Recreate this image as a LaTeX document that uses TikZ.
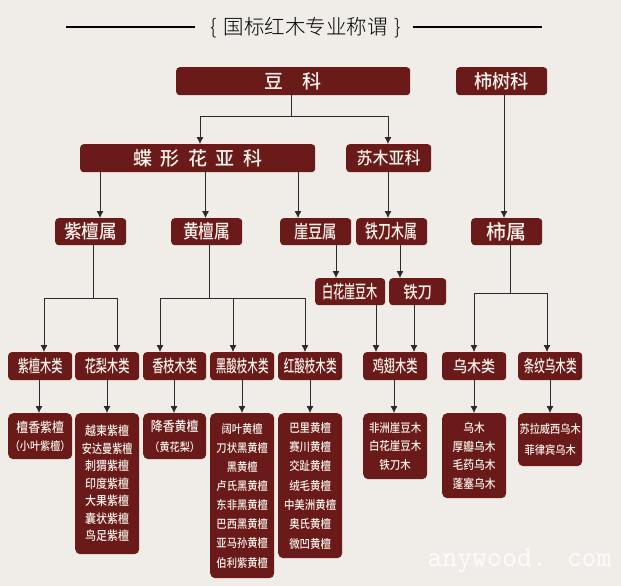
\documentclass[tikz,border=0pt]{standalone}
\usepackage{fontspec}
\setmainfont{Noto Sans CJK SC Medium}
\newfontfamily\listfont[FakeStretch=0.88]{Noto Sans CJK SC Medium}
\newfontfamily\titlefont{Noto Sans CJK SC Light}
\usetikzlibrary{arrows.meta}
\definecolor{paper}{HTML}{F0EDE8}
\definecolor{wood}{HTML}{6A1A18}
\definecolor{ink}{HTML}{2A2A2A}
\definecolor{chalk}{HTML}{F8F2EC}
\newcommand{\sq}[2][0.82]{\scalebox{#1}[1]{#2}}
\tikzset{
  x=1pt,y=-1pt,
  box/.style={fill=wood,rounded corners=3.5pt,text=chalk,inner sep=0pt,align=center,anchor=north west,font=\fontsize{#1}{#1}\selectfont},
  box/.default=18,
  list/.style={fill=wood,rounded corners=5pt,text=chalk,inner sep=0pt,align=center,anchor=north west,font=\listfont\fontsize{12.5}{#1}\selectfont},
  line/.style={draw=ink,line width=0.75pt},
  arr/.style={draw=ink,line width=0.75pt,-{Latex[length=7pt,width=7pt]}},
}
\begin{document}
\begin{tikzpicture}
\useasboundingbox (0,0) rectangle (621,586);
\fill[paper] (0,0) rectangle (621,586);
% title
\coordinate (tl0) at (66,27); \coordinate (tl1) at (195,27);
\coordinate (tr0) at (413,27); \coordinate (tr1) at (542,27);
\draw[line width=1.6pt,black] (tl0)--(tl1);
\draw[line width=1.6pt,black] (tr0)--(tr1);
\node[text=black,font=\titlefont\fontsize{20.5}{21}\selectfont,anchor=center] (title) at (306,28) {\{\hspace{7pt}国标红木专业称谓\hspace{7pt}\}};
% level 1
\node[box=19,minimum width=234pt,minimum height=28pt] (dou) at (176,67) {豆\hspace{19pt}科};
\node[box=19,minimum width=91pt,minimum height=28pt] (shishu) at (456,67) {\sq[0.96]{柿树科}};
% level 2
\node[box=19,minimum width=235pt,minimum height=28pt] (die) at (80,144) {蝶\hspace{8.5pt}形\hspace{8.5pt}花\hspace{8.5pt}亚\hspace{8.5pt}科};
\node[box=17,minimum width=85pt,minimum height=28pt] (sumu) at (346,144) {\sq[0.94]{苏木亚科}};
% level 3
\node[box=19,minimum width=71pt,minimum height=27pt] (zitan) at (55,218) {\sq[0.93]{紫檀属}};
\node[box=19,minimum width=71pt,minimum height=27pt] (huangtan) at (171,218) {\sq[0.83]{黄檀属}};
\node[box=18,minimum width=71pt,minimum height=27pt] (yadou) at (280,218) {\sq[0.8]{崖豆属}};
\node[box=19,minimum width=71pt,minimum height=27pt] (tiedaomu) at (356,218) {\sq[0.68]{铁刀木属}};
\node[box=20,minimum width=71pt,minimum height=27pt] (shi) at (471,218) {柿属};
% level 4
\node[box=18,minimum width=70pt,minimum height=27pt] (baihua) at (315,278) {\sq[0.62]{白花崖豆木}};
\node[box=17,minimum width=57pt,minimum height=27pt] (tiedao) at (389,278) {\sq[0.85]{铁刀}};
% level 5
\node[box=17,minimum width=64pt,minimum height=28pt] (l1) at (8,352) {\sq[0.66]{紫檀木类}};
\node[box=17,minimum width=64pt,minimum height=28pt] (l2) at (75,352) {\sq[0.66]{花梨木类}};
\node[box=17,minimum width=63pt,minimum height=28pt] (l3) at (143,352) {\sq[0.66]{香枝木类}};
\node[box=17,minimum width=64pt,minimum height=28pt] (l4) at (210,352) {\sq[0.62]{黑酸枝木类}};
\node[box=17,minimum width=64pt,minimum height=28pt] (l5) at (278,352) {\sq[0.62]{红酸枝木类}};
\node[box=17,minimum width=64pt,minimum height=28pt] (l6) at (363,352) {\sq[0.66]{鸡翅木类}};
\node[box=16,minimum width=64pt,minimum height=28pt] (l7) at (442,352) {\sq[0.88]{乌木类}};
\node[box=17,minimum width=64pt,minimum height=28pt] (l8) at (518,352) {\sq[0.62]{条纹乌木类}};
% lists
\node[list=18,font=\listfont\fontsize{13.5}{18}\selectfont,minimum width=64pt,minimum height=46pt] (b1) at (8,413) {檀香紫檀\\{\fontsize{11.5}{18}\selectfont （小叶紫檀）}};
\node[list=17.5,minimum width=64pt,minimum height=141pt] (b2) at (75,413) {越柬紫檀\\\sq[0.92]{安达曼紫檀}\\刺猬紫檀\\印度紫檀\\大果紫檀\\囊状紫檀\\鸟足紫檀};
\node[list=20,font=\listfont\fontsize{13.5}{20}\selectfont,minimum width=63pt,minimum height=46pt] (b3) at (143,413) {降香黄檀\\{\fontsize{11.5}{20}\selectfont （黄花梨）}};
\node[list=19.1,font=\listfont\fontsize{11.7}{19.1}\selectfont,minimum width=64pt,minimum height=165pt] (b4) at (210,413) {阔叶黄檀\\刀状黑黄檀\\黑黄檀\\卢氏黑黄檀\\东非黑黄檀\\巴西黑黄檀\\亚马孙黄檀\\伯利紫黄檀};
\node[list=19.3,font=\listfont\fontsize{11.9}{19.3}\selectfont,minimum width=64pt,minimum height=145pt] (b5) at (278,413) {巴里黄檀\\赛川黄檀\\交趾黄檀\\绒毛黄檀\\中美洲黄檀\\奥氏黄檀\\微凹黄檀};
\node[list=18.5,font=\listfont\fontsize{11.9}{18.5}\selectfont,minimum width=64pt,minimum height=66pt] (b6) at (363,413) {非洲崖豆木\\白花崖豆木\\铁刀木};
\node[list=18.7,font=\listfont\fontsize{12.2}{18.7}\selectfont,minimum width=64pt,minimum height=85pt] (b7) at (442,413) {乌木\\厚瓣乌木\\毛药乌木\\蓬塞乌木};
\node[list=21,font=\listfont\fontsize{11.6}{21}\selectfont,minimum width=64pt,minimum height=53pt] (b8) at (518,413) {苏拉威西乌木\\菲律宾乌木};
% connectors
\coordinate (ja) at (291,116); \coordinate (jal) at (200,116); \coordinate (jar) at (388,116);
\draw[line] (dou.south -| ja) -- (ja);
\draw[arr] (ja) -- (jal) -- (die.north -| jal);
\draw[arr] (ja) -- (jar) -- (sumu.north -| jar);
\draw[arr] (die.south -| 100,0) -- (zitan.north -| 100,0);
\draw[arr] (die.south -| 205.5,0) -- (huangtan.north -| 205.5,0);
\draw[arr] (die.south -| 298,0) -- (yadou.north -| 298,0);
\draw[arr] (sumu.south -| 388,0) -- (tiedaomu.north -| 388,0);
\draw[arr] (shishu.south -| 504,0) -- (shi.north -| 504,0);
\draw[arr] (yadou.south -| 336,0) -- (baihua.north -| 336,0);
\draw[arr] (tiedaomu.south -| 400,0) -- (tiedao.north -| 400,0);
\draw[arr] (baihua.south -| 376,0) -- (l6.north -| 376,0);
\draw[arr] (tiedao.south -| 414,0) -- (l6.north -| 414,0);
% zitan group
\coordinate (jb) at (93.5,298); \coordinate (jb1) at (44,298); \coordinate (jb2) at (117,298);
\draw[line] (zitan.south -| jb) -- (jb);
\draw[arr] (jb) -- (jb1) -- (l1.north -| jb1);
\draw[arr] (jb) -- (jb2) -- (l2.north -| jb2);
% huangtan group
\coordinate (jc) at (209,298); \coordinate (jc1) at (160,298); \coordinate (jc2) at (233,298); \coordinate (jc3) at (305,298);
\draw[line] (huangtan.south -| jc) -- (jc);
\draw[arr] (jc) -- (jc1) -- (l3.north -| jc1);
\draw[arr] (jc2) -- (l4.north -| jc2);
\draw[arr] (jc) -- (jc3) -- (l5.north -| jc3);
% shi group
\coordinate (jd) at (510,293); \coordinate (jd1) at (474,293); \coordinate (jd2) at (547,293);
\draw[line] (shi.south -| jd) -- (jd);
\draw[arr] (jd) -- (jd1) -- (l7.north -| jd1);
\draw[arr] (jd) -- (jd2) -- (l8.north -| jd2);
% to lists
\draw[arr] (l1.south -| 39,0) -- (b1.north -| 39,0);
\draw[arr] (l2.south -| 107,0) -- (b2.north -| 107,0);
\draw[arr] (l3.south -| 174,0) -- (b3.north -| 174,0);
\draw[arr] (l4.south -| 242,0) -- (b4.north -| 242,0);
\draw[arr] (l5.south -| 310,0) -- (b5.north -| 310,0);
\draw[arr] (l6.south -| 394,0) -- (b6.north -| 394,0);
\draw[arr] (l7.south -| 474,0) -- (b7.north -| 474,0);
\draw[arr] (l8.south -| 550,0) -- (b8.north -| 550,0);
% watermark
\node[text=white,font=\ttfamily\fontsize{29}{29}\selectfont,opacity=0.85,anchor=center] (wm) at (519.5,561) {anywood. com};
\end{tikzpicture}
\end{document}
